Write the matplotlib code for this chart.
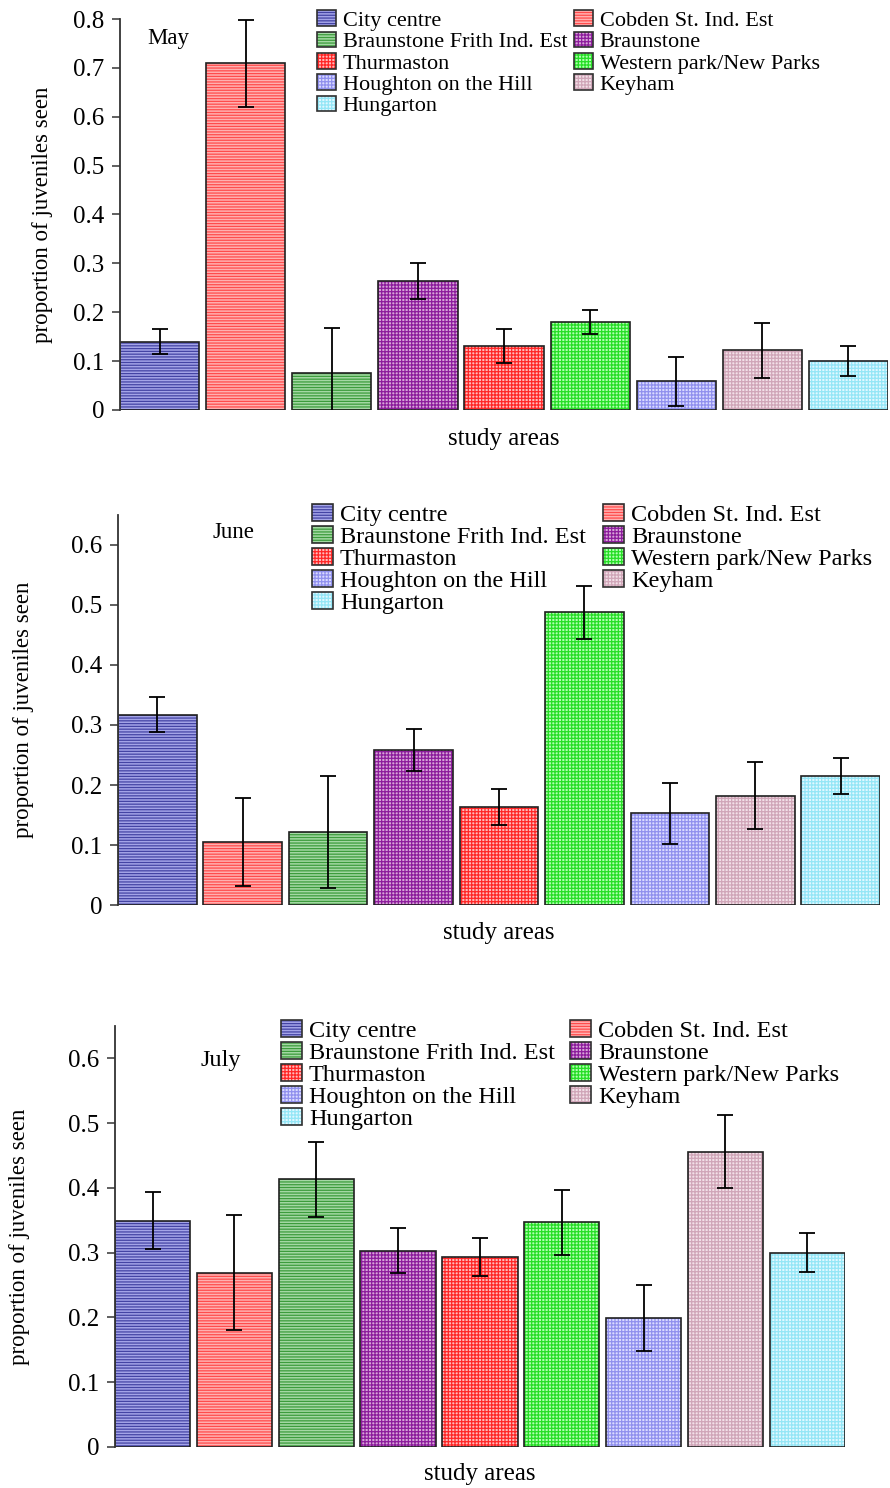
import matplotlib
matplotlib.use("Agg")
from matplotlib import pyplot as plt
import matplotlib.patches as mpatches
from matplotlib.legend_handler import HandlerTuple

plt.rcParams['font.family'] = ['Liberation Serif', 'DejaVu Serif']
plt.rcParams['hatch.linewidth'] = 0.9

areas = ["City centre", "Cobden St. Ind. Est", "Braunstone Frith Ind. Est",
         "Braunstone", "Thurmaston", "Western park/New Parks",
         "Houghton on the Hill", "Keyham", "Hungarton"]

may_vals = [0.140, 0.710, 0.075, 0.264, 0.131, 0.180, 0.059, 0.122, 0.100]
may_err = [0.025, 0.089, 0.093, 0.036, 0.034, 0.025, 0.050, 0.056, 0.030]

june_vals = [0.317, 0.105, 0.122, 0.258, 0.163, 0.488, 0.153, 0.182, 0.215]
june_err = [0.029, 0.073, 0.093, 0.035, 0.030, 0.044, 0.051, 0.056, 0.030]

july_vals = [0.349, 0.269, 0.413, 0.303, 0.293, 0.347, 0.199, 0.456, 0.300]
july_err = [0.044, 0.089, 0.058, 0.035, 0.029, 0.050, 0.051, 0.056, 0.030]

# light fill, dark hatch, hatch pattern for each study area
face_colors = ["#a4a4e8", "#ffb0b0", "#a4d8a4", "#d8a6d8", "#ffbaba",
               "#b0ffb0", "#dadaff", "#f2e0e8", "#e0f8ff"]
hatch_colors = ["#4444a4", "#ff4c4c", "#3c9c3c", "#8c1c9c", "#ff2626",
                "#26de26", "#9090ee", "#d0a6b8", "#94e6f6"]
hatches = ["------", "------", "------", "+++++", "+++++",
           "+++++", "+++++", "+++++", "+++++"]

# row-wise legend order -> column order for ncol=2
leg_order = [0, 2, 4, 6, 8, 1, 3, 5, 7]


def draw_panel(ax, vals, errs, month, top, ticks, month_xy, month_size,
               leg_xy, leg_size, col_space, row_space, ylab_x, xlab_y):
    x = list(range(len(vals)))
    ax.bar(x, vals, width=0.92, color=face_colors, edgecolor=hatch_colors,
           linewidth=0, zorder=1)
    for b, h in zip(ax.patches, hatches):
        b.set_hatch(h)
    ax.bar(x, vals, width=0.92, facecolor="none", edgecolor="#202020",
           linewidth=1.2, zorder=2)
    ax.errorbar(x, vals, yerr=errs, fmt="none", ecolor="black", elinewidth=1.3,
                capsize=5.5, capthick=1.3, zorder=3)

    ax.set_xlim(-0.46, 8.46)
    ax.set_ylim(0, top)
    ax.set_xticks([])
    ax.set_yticks(ticks)
    ax.set_yticklabels([f"{t:g}" for t in ticks])
    ax.tick_params(axis="y", labelsize=18, length=6, width=1.2, color="#444444", pad=5)
    for s in ["top", "right", "bottom"]:
        ax.spines[s].set_visible(False)
    ax.spines["left"].set_linewidth(1.3)
    ax.spines["left"].set_color("#333333")

    ax.set_ylabel("proportion of juveniles seen", fontsize=16.5)
    ax.yaxis.set_label_coords(ylab_x, 0.5)
    ax.set_xlabel("study areas", fontsize=18)
    ax.xaxis.set_label_coords(0.5, xlab_y)

    ax.text(month_xy[0], month_xy[1], month, transform=ax.transAxes,
            ha="center", va="center", fontsize=month_size)

    handles = []
    for i in range(len(areas)):
        fill = mpatches.Patch(facecolor=face_colors[i], edgecolor=hatch_colors[i],
                              hatch=hatches[i], linewidth=0)
        edge = mpatches.Patch(facecolor="none", edgecolor="#303030", linewidth=1.2)
        handles.append((fill, edge))
    ax.legend([handles[i] for i in leg_order], [areas[i] for i in leg_order],
              handler_map={tuple: HandlerTuple(ndivide=1)},
              loc="upper left", bbox_to_anchor=leg_xy, ncol=2, frameon=False,
              fontsize=leg_size, borderpad=0, labelspacing=row_space,
              handlelength=0.85, handleheight=0.7, handletextpad=0.3,
              columnspacing=col_space, borderaxespad=0)


fig = plt.figure(figsize=(8.9, 14.88), dpi=100)

ax1 = fig.add_axes([0.1348, 0.7245, 0.863, 0.2627])
draw_panel(ax1, may_vals, may_err, "May", 0.8,
           [0, 0.1, 0.2, 0.3, 0.4, 0.5, 0.6, 0.7, 0.8],
           (0.0625, 0.951), 16.5, (0.2565, 1.023), 16, 0.32, 0.04, -0.087, -0.046)

ax2 = fig.add_axes([0.1326, 0.3918, 0.8562, 0.2621])
draw_panel(ax2, june_vals, june_err, "June", 0.65,
           [0, 0.1, 0.2, 0.3, 0.4, 0.5, 0.6],
           (0.151, 0.954), 16.5, (0.2546, 1.029), 17.5, 0.72, 0.0, -0.110, -0.0436)

ax3 = fig.add_axes([0.1292, 0.0276, 0.8202, 0.2829])
draw_panel(ax3, july_vals, july_err, "July", 0.65,
           [0, 0.1, 0.2, 0.3, 0.4, 0.5, 0.6],
           (0.145, 0.917), 17.5, (0.2274, 1.015), 17.5, 0.64, 0.0, -0.116, -0.038)

fig.savefig("out.png", dpi=100)
